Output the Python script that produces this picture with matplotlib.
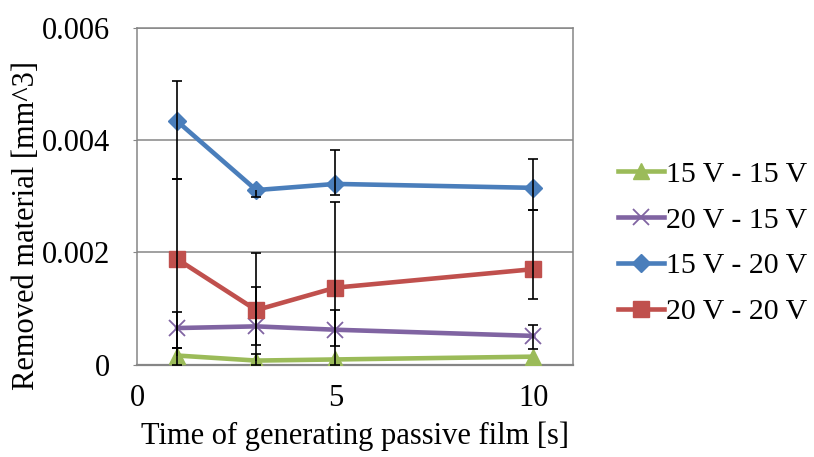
import numpy as np
import matplotlib
matplotlib.use("Agg")
import matplotlib.pyplot as plt
from matplotlib.ticker import FuncFormatter

plt.rcParams['font.family'] = ['Liberation Serif', 'DejaVu Serif']

# Time of generating passive film [s]
times = [1, 3, 5, 10]

# Removed material [mm^3] per condition, with lower / upper error extents
v15_15 = [0.00016, 0.00007, 0.00009, 0.00014]
v15_15_minus = [0.0, 0.0, 0.0, 0.0]
v15_15_plus = [0.00013, 0.00012, 0.0, 0.0]

v20_15 = [0.00065, 0.00068, 0.00062, 0.00051]
v20_15_minus = [0.00036, 0.00033, 0.00029, 0.00024]
v20_15_plus = [0.00028, 0.00070, 0.00035, 0.00020]

v15_20 = [0.00434, 0.00311, 0.00322, 0.00315]
v15_20_minus = [0.00103, 0.00012, 0.00020, 0.00039]
v15_20_plus = [0.00072, 0.0, 0.00060, 0.00052]

v20_20 = [0.00188, 0.00097, 0.00137, 0.00170]
v20_20_minus = [0.00188, 0.00097, 0.00137, 0.00054]
v20_20_plus = [0.00143, 0.00101, 0.00152, 0.00106]

labels = ["15 V - 15 V", "20 V - 15 V", "15 V - 20 V", "20 V - 20 V"]
x_ticks = [0, 5, 10]
y_ticks = [0, 0.002, 0.004, 0.006]

series = [
    (labels[0], v15_15, v15_15_minus, v15_15_plus, "#9BBB59", "^", 12),
    (labels[1], v20_15, v20_15_minus, v20_15_plus, "#8064A2", "x", 11),
    (labels[2], v15_20, v15_20_minus, v15_20_plus, "#4A7EBB", "D", 9),
    (labels[3], v20_20, v20_20_minus, v20_20_plus, "#C0504D", "s", 11),
]

fig = plt.figure(figsize=(8.14, 4.57), dpi=100)
ax = fig.add_axes([0.1689, 0.2024, 0.5350, 0.7363])

FS = 22
grey = "#868686"

xs = np.array(times, dtype=float)
handles = []
for name, vals, lo, hi, color, marker, ms in series:
    y = np.array(vals)
    lo = np.array(lo)
    hi = np.array(hi)
    mew = 1.3 if marker == "x" else 1.0
    h, = ax.plot(xs, y, color=color, lw=3.3, marker=marker, ms=ms,
                 mfc=color, mec=color, mew=mew, zorder=3, label=name,
                 solid_joinstyle="round")
    handles.append(h)
    # error bars, drawn only on the sides that have an extent
    for ext, sign in ((lo, -1), (hi, 1)):
        m = ext > 0
        ends = y + sign * ext
        ax.vlines(xs[m], y[m], ends[m], color="black", lw=1.2, zorder=4)
        ax.plot(xs[m], ends[m], ls="none", marker="_", ms=6.5, mew=1.2,
                color="black", zorder=4)

ax.set_xlim(0, 11)
ax.set_ylim(0, 0.006)
ax.set_xticks(x_ticks)
ax.set_yticks(y_ticks)
ax.yaxis.set_major_formatter(FuncFormatter(lambda v, p: f"{v:g}"))

ax.grid(axis="y", color=grey, lw=1.1, zorder=0)
ax.set_axisbelow(True)
for s in ax.spines.values():
    s.set_color(grey)
    s.set_linewidth(1.1)
ax.spines["bottom"].set_linewidth(1.6)

ax.tick_params(axis="y", direction="out", length=3, color=grey,
               pad=17, labelsize=FS)
ax.tick_params(axis="x", length=0, pad=14, labelsize=FS)

ax.set_xlabel("Time of generating passive film [s]", fontsize=FS, labelpad=6)
fig.text(27 / 814, 1 - 226 / 457, "Removed material [mm^3]", rotation=90,
         ha="center", va="center", fontsize=FS)

ax.legend(handles=handles, loc="center left",
          bbox_to_anchor=(618 / 814, 1 - 243 / 457),
          bbox_transform=fig.transFigure, frameon=False, fontsize=21.5,
          handlelength=1.55, handletextpad=0.05, labelspacing=0.63,
          borderaxespad=0, borderpad=0)

fig.savefig("out.png", dpi=100)
